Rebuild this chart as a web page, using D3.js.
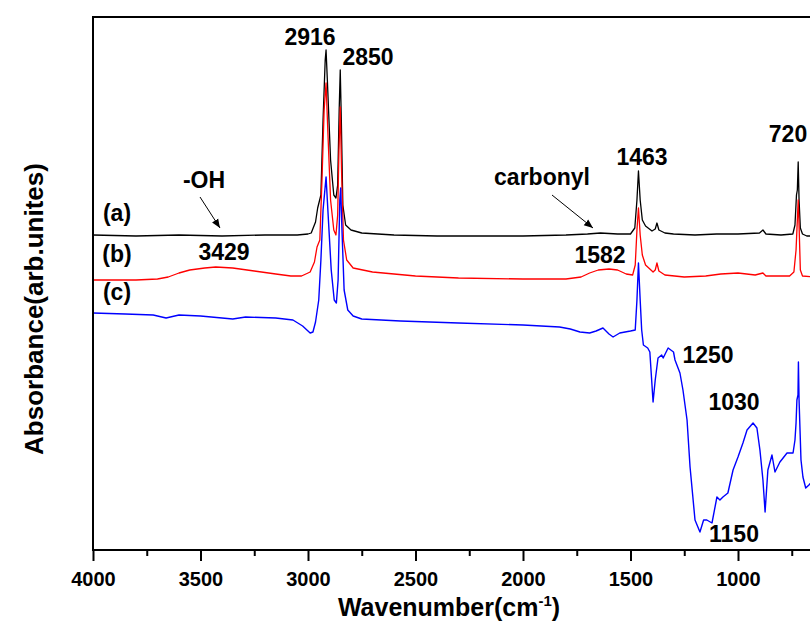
<!DOCTYPE html>
<html>
<head>
<meta charset="utf-8">
<script src="https://cdn.jsdelivr.net/npm/d3@7"></script>
<style>
  body { margin: 0; background: #fff; }
  svg { font-family: "Liberation Sans", Arial, sans-serif; font-weight: bold; }
</style>
</head>
<body>
<svg></svg>
<script>
// spectrum (a) - black
const wnA = [4000, 3800, 3600, 3400, 3200, 3050, 3000, 2985, 2965, 2955, 2940, 2930, 2920, 2916, 2910, 2895, 2880, 2870, 2862, 2855, 2850, 2845, 2838, 2825, 2800, 2750, 2600, 2400, 2200, 2000, 1800, 1700, 1640, 1560, 1500, 1480, 1470, 1463, 1455, 1445, 1430, 1400, 1385, 1377, 1368, 1340, 1300, 1200, 1100, 1000, 900, 884, 870, 800, 745, 735, 728, 724, 720, 716, 710, 700, 680, 650];
const absA = [3.15, 3.14, 3.15, 3.14, 3.15, 3.15, 3.16, 3.17, 3.28, 3.42, 3.55, 4.30, 4.90, 5.00, 4.70, 3.90, 3.55, 3.52, 3.65, 4.40, 4.80, 4.30, 3.45, 3.25, 3.20, 3.17, 3.15, 3.14, 3.14, 3.14, 3.15, 3.16, 3.17, 3.16, 3.16, 3.22, 3.50, 3.79, 3.50, 3.30, 3.24, 3.19, 3.21, 3.27, 3.20, 3.17, 3.16, 3.15, 3.16, 3.16, 3.17, 3.20, 3.16, 3.15, 3.16, 3.25, 3.55, 3.60, 3.88, 3.50, 3.22, 3.16, 3.14, 3.14];

// spectrum (b) - red
const wnB = [4000, 3800, 3700, 3650, 3600, 3550, 3480, 3429, 3350, 3250, 3150, 3080, 3030, 2990, 2970, 2958, 2945, 2935, 2925, 2916, 2908, 2895, 2880, 2870, 2862, 2856, 2850, 2844, 2835, 2820, 2790, 2700, 2500, 2300, 2000, 1800, 1730, 1690, 1650, 1600, 1560, 1520, 1490, 1478, 1470, 1463, 1455, 1445, 1430, 1395, 1385, 1377, 1368, 1340, 1250, 1150, 1080, 1000, 920, 884, 870, 800, 760, 740, 730, 724, 720, 716, 710, 700, 650];
const absB = [2.70, 2.70, 2.71, 2.73, 2.77, 2.80, 2.82, 2.83, 2.82, 2.79, 2.76, 2.74, 2.74, 2.78, 2.88, 3.03, 3.10, 3.70, 4.40, 4.67, 4.20, 3.50, 3.20, 3.15, 3.35, 4.00, 4.43, 3.80, 3.10, 2.90, 2.82, 2.78, 2.74, 2.72, 2.71, 2.71, 2.73, 2.77, 2.80, 2.81, 2.80, 2.76, 2.75, 2.85, 3.20, 3.42, 3.15, 2.95, 2.85, 2.78, 2.80, 2.87, 2.79, 2.75, 2.73, 2.74, 2.76, 2.77, 2.75, 2.77, 2.74, 2.74, 2.74, 2.78, 3.00, 3.30, 3.50, 3.25, 2.80, 2.74, 2.73];

// spectrum (c) - blue
const wnC = [4000, 3850, 3720, 3660, 3600, 3500, 3350, 3290, 3150, 3070, 3025, 2990, 2977, 2965, 2950, 2940, 2930, 2916, 2905, 2892, 2878, 2868, 2860, 2852, 2848, 2842, 2832, 2815, 2790, 2750, 2570, 2300, 2000, 1830, 1780, 1735, 1690, 1660, 1628, 1600, 1581, 1550, 1500, 1478, 1470, 1463, 1455, 1448, 1440, 1420, 1410, 1395, 1385, 1372, 1355, 1348, 1325, 1300, 1293, 1270, 1256, 1237, 1223, 1200, 1177, 1160, 1145, 1121, 1098, 1084, 1070, 1047, 1023, 1000, 977, 958, 930, 912, 898, 884, 874, 861, 842, 828, 805, 772, 744, 735, 730, 726, 721, 719, 716, 712, 707, 698, 685, 670, 650];
const absC = [2.37, 2.36, 2.35, 2.32, 2.35, 2.34, 2.31, 2.33, 2.32, 2.30, 2.24, 2.17, 2.18, 2.28, 2.50, 2.90, 3.40, 3.73, 3.30, 2.80, 2.50, 2.47, 2.70, 3.50, 3.62, 3.20, 2.60, 2.40, 2.34, 2.31, 2.29, 2.27, 2.25, 2.23, 2.21, 2.18, 2.17, 2.19, 2.22, 2.16, 2.13, 2.17, 2.19, 2.20, 2.50, 2.87, 2.50, 2.20, 2.05, 2.02, 1.98, 1.48, 1.70, 1.92, 1.95, 1.92, 2.02, 1.98, 1.90, 1.77, 1.60, 1.30, 0.83, 0.30, 0.18, 0.30, 0.30, 0.27, 0.53, 0.50, 0.53, 0.57, 0.80, 0.93, 1.07, 1.20, 1.27, 1.22, 1.00, 0.70, 0.38, 0.80, 0.95, 0.78, 0.88, 0.97, 0.97, 1.10, 1.27, 1.50, 1.55, 1.88, 1.50, 1.23, 0.90, 0.73, 0.62, 0.65, 0.70];

const majorTicks = [4000, 3500, 3000, 2500, 2000, 1500, 1000];
const minorTicks = [3750, 3250, 2750, 2250, 1750, 1250, 750];

const width = 810;
const height = 621;
const plotLeft = 93;
const plotTop = 17;
const plotBottom = 550;

const svg = d3.select("svg").attr("width", width).attr("height", height);

const xScale = d3.scaleLinear().domain([4000, 400]).range([plotLeft, plotLeft + 3600 * 0.215]);
const yScale = d3.scaleLinear().domain([0, 5.33]).range([plotBottom, plotTop]);

const line = d3.line()
  .x((d) => xScale(d[0]))
  .y((d) => yScale(d[1]));

const drawSpectrum = (wn, ab, color, w) => {
  svg.append("path")
    .datum(d3.zip(wn, ab))
    .attr("d", line)
    .attr("fill", "none")
    .attr("stroke", color)
    .attr("stroke-width", w)
    .attr("stroke-linejoin", "round");
};

drawSpectrum(wnA, absA, "#000", 1.3);
drawSpectrum(wnB, absB, "#ff0000", 1.3);
drawSpectrum(wnC, absC, "#0000ff", 1.4);

// frame
svg.append("rect")
  .attr("x", plotLeft)
  .attr("y", plotTop)
  .attr("width", xScale(400) - plotLeft)
  .attr("height", plotBottom - plotTop)
  .attr("fill", "none")
  .attr("stroke", "#000")
  .attr("stroke-width", 2);

const xAxis = d3.axisBottom(xScale)
  .tickValues(majorTicks)
  .tickSize(11)
  .tickSizeOuter(0)
  .tickFormat(d3.format("d"));

const gx = svg.append("g")
  .attr("transform", `translate(0, ${plotBottom})`)
  .call(xAxis);
gx.select(".domain").remove();
gx.selectAll("line").attr("stroke-width", 2);
gx.selectAll("text")
  .attr("y", 22)
  .attr("dy", "0.71em")
  .attr("font-size", 20)
  .attr("font-family", "Liberation Sans, Arial, sans-serif")
  .attr("font-weight", "bold")
  .attr("fill", "#000");

const minorAxis = d3.axisBottom(xScale)
  .tickValues(minorTicks)
  .tickSize(6)
  .tickSizeOuter(0)
  .tickFormat("");
const gm = svg.append("g")
  .attr("transform", `translate(0, ${plotBottom})`)
  .call(minorAxis);
gm.select(".domain").remove();
gm.selectAll("line").attr("stroke-width", 2);

// axis titles
const xt = svg.append("text")
  .attr("x", 449)
  .attr("y", 616)
  .attr("text-anchor", "middle")
  .attr("font-size", 25);
xt.append("tspan").text("Wavenumber(cm");
xt.append("tspan").text("-1").attr("font-size", 15).attr("dy", -10);
xt.append("tspan").text(")").attr("dy", 10);

svg.append("text")
  .attr("transform", "translate(43, 309) rotate(-90)")
  .attr("text-anchor", "middle")
  .attr("font-size", 26)
  .text("Absorbance(arb.unites)");

// annotations
const labels = [
  ["2916", 310, 45],
  ["2850", 368, 65],
  ["-OH", 204, 188],
  ["(a)", 117, 221],
  ["(b)", 117, 262],
  ["(c)", 117, 300],
  ["3429", 224, 260],
  ["carbonyl", 542, 185],
  ["1463", 642, 165],
  ["720", 788, 142],
  ["1582", 600, 263],
  ["1250", 708, 363],
  ["1030", 734, 410],
  ["1150", 734, 542]
];

svg.selectAll(".lbl")
  .data(labels)
  .enter()
  .append("text")
  .attr("class", "lbl")
  .attr("x", (d) => d[1])
  .attr("y", (d) => d[2])
  .attr("text-anchor", "middle")
  .attr("font-size", 23)
  .text((d) => d[0]);

svg.append("defs").append("marker")
  .attr("id", "arrow")
  .attr("viewBox", "0 0 10 10")
  .attr("refX", 10)
  .attr("refY", 5)
  .attr("markerWidth", 9)
  .attr("markerHeight", 9)
  .attr("markerUnits", "userSpaceOnUse")
  .attr("orient", "auto")
  .append("path")
  .attr("d", "M0,1 L10,5 L0,9 Z")
  .attr("fill", "#000");

const arrows = [
  [200, 197, 220, 228],
  [552, 195, 593, 228]
];
svg.selectAll(".arr")
  .data(arrows)
  .enter()
  .append("line")
  .attr("class", "arr")
  .attr("x1", (d) => d[0])
  .attr("y1", (d) => d[1])
  .attr("x2", (d) => d[2])
  .attr("y2", (d) => d[3])
  .attr("stroke", "#000")
  .attr("stroke-width", 1)
  .attr("marker-end", "url(#arrow)");
</script>
</body>
</html>
